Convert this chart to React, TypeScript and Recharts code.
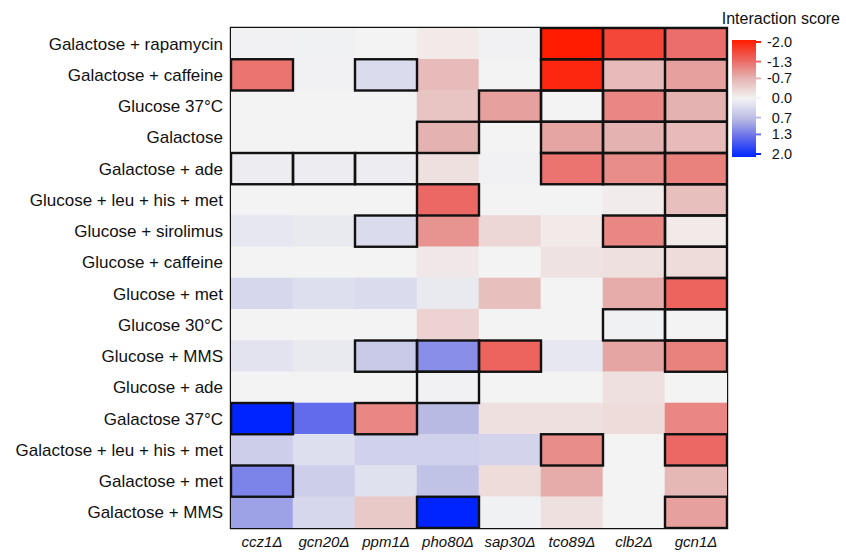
import { ScatterChart, Scatter, XAxis, YAxis, ReferenceArea } from "recharts"

const conditions = [
  "Galactose + rapamycin",
  "Galactose + caffeine",
  "Glucose 37°C",
  "Galactose",
  "Galactose + ade",
  "Glucose + leu + his + met",
  "Glucose + sirolimus",
  "Glucose + caffeine",
  "Glucose + met",
  "Glucose 30°C",
  "Glucose + MMS",
  "Glucose + ade",
  "Galactose 37°C",
  "Galactose + leu + his + met",
  "Galactose + met",
  "Galactose + MMS",
]

const strains = ["ccz1Δ", "gcn20Δ", "ppm1Δ", "pho80Δ", "sap30Δ", "tco89Δ", "clb2Δ", "gcn1Δ"]

// interaction scores, one array per strain, in condition order
const ccz1 = [0.02, -1.2, 0, 0, 0.08, 0, 0.15, 0, 0.35, 0, 0.2, 0, 2.0, 0.45, 1.15, 0.9]
const gcn20 = [0.03, 0.02, 0, 0, 0.08, 0, 0.12, 0, 0.25, 0, 0.12, 0, 1.35, 0.25, 0.45, 0.35]
const ppm1 = [0, 0.3, 0, 0, 0.08, 0, 0.3, 0, 0.3, 0, 0.5, 0, -1.05, 0.42, 0.22, -0.45]
const pho80 = [-0.1, -0.6, -0.5, -0.7, -0.2, -1.3, -0.95, -0.12, 0.12, -0.35, 1.05, 0.02, 0.7, 0.42, 0.6, 2.0]
const sap30 = [0.02, 0, -0.85, 0, 0.02, 0, -0.3, 0, -0.55, 0, -1.35, 0, -0.2, 0.38, -0.25, 0.03]
const tco89 = [-2.0, -1.9, 0, -0.8, -1.2, 0, -0.1, -0.18, 0, 0, 0.15, 0, -0.2, -1.0, -0.75, -0.2]
const clb2 = [-1.6, -0.6, -1.05, -0.7, -1.0, -0.08, -1.05, -0.2, -0.75, 0.03, -0.8, -0.2, -0.25, 0, 0, 0]
const gcn1 = [-1.25, -0.85, -0.7, -0.6, -1.1, -0.55, -0.1, -0.25, -1.35, 0, -1.1, 0, -1.05, -1.3, -0.65, -0.85]

// 1 = significant (outlined cell)
const ccz1Sig = [0, 1, 0, 0, 1, 0, 0, 0, 0, 0, 0, 0, 1, 0, 1, 0]
const gcn20Sig = [0, 0, 0, 0, 1, 0, 0, 0, 0, 0, 0, 0, 0, 0, 0, 0]
const ppm1Sig = [0, 1, 0, 0, 1, 0, 1, 0, 0, 0, 1, 0, 1, 0, 0, 0]
const pho80Sig = [0, 0, 0, 1, 0, 1, 0, 0, 0, 0, 1, 1, 0, 0, 0, 1]
const sap30Sig = [0, 0, 1, 0, 0, 0, 0, 0, 0, 0, 1, 0, 0, 0, 0, 0]
const tco89Sig = [1, 1, 1, 1, 1, 0, 0, 0, 0, 0, 0, 0, 0, 1, 0, 0]
const clb2Sig = [1, 0, 1, 1, 1, 0, 1, 0, 0, 1, 0, 0, 0, 0, 0, 0]
const gcn1Sig = [1, 1, 1, 1, 1, 1, 1, 1, 1, 1, 1, 0, 0, 1, 0, 1]

const legendTicks = [-2.0, -1.3, -0.7, 0.0, 0.7, 1.3, 2.0]

const scoreColumns = [ccz1, gcn20, ppm1, pho80, sap30, tco89, clb2, gcn1]
const sigColumns = [ccz1Sig, gcn20Sig, ppm1Sig, pho80Sig, sap30Sig, tco89Sig, clb2Sig, gcn1Sig]

const W = 846
const H = 552
const PLOT_LEFT = 231
const PLOT_TOP = 28
const PLOT_W = 496
const PLOT_H = 500
const CELL_W = PLOT_W / strains.length
const CELL_H = PLOT_H / conditions.length
const FONT = "'Liberation Sans', Arial, Helvetica, sans-serif"

// colour stops along the legend, -2 (red) to 2 (blue)
const colorStops: [number, number[]][] = [
  [-2.0, [255, 28, 0]],
  [-1.3, [236, 104, 100]],
  [-0.7, [228, 178, 176]],
  [0.0, [243, 243, 243]],
  [0.7, [184, 186, 228]],
  [1.3, [104, 112, 234]],
  [2.0, [0, 36, 255]],
]

function scoreColor(v: number) {
  const x = Math.max(-2, Math.min(2, v))
  for (let i = 0; i < colorStops.length - 1; i++) {
    const [a, ca] = colorStops[i]
    const [b, cb] = colorStops[i + 1]
    if (x >= a && x <= b) {
      const t = (x - a) / (b - a)
      const c = ca.map((k, j) => Math.round(k + (cb[j] - k) * t))
      return `rgb(${c[0]},${c[1]},${c[2]})`
    }
  }
  return "rgb(243,243,243)"
}

const cells = strains.flatMap((strain, c) =>
  conditions.map((condition, r) => ({
    x: c + 0.5,
    y: r + 0.5,
    strain,
    condition,
    value: scoreColumns[c][r],
    sig: sigColumns[c][r] === 1,
  }))
)
const sigCells = cells.filter((d) => d.sig)

const xTicks = strains.map((_, i) => i + 0.5)
const yTicks = conditions.map((_, i) => i + 0.5)

const FillCell = (props: any) => {
  const { cx, cy, payload } = props
  return (
    <rect
      x={cx - CELL_W / 2 - 0.3}
      y={cy - CELL_H / 2 - 0.3}
      width={CELL_W + 0.6}
      height={CELL_H + 0.6}
      fill={scoreColor(payload.value)}
    />
  )
}

const BorderCell = (props: any) => {
  const { cx, cy } = props
  return (
    <rect
      x={cx - CELL_W / 2}
      y={cy - CELL_H / 2}
      width={CELL_W}
      height={CELL_H}
      fill="none"
      stroke="#111"
      strokeWidth={2.4}
    />
  )
}

function ColorLegend() {
  const barX = 732
  const barY = 40
  const barW = 24
  const barH = 117
  const tickY = (v: number) => 42 + ((v + 2) / 4) * 112
  return (
    <svg width={W} height={H} style={{ position: "absolute", left: 0, top: 0, pointerEvents: "none" }}>
      <defs>
        <linearGradient id="scoreGrad" x1="0" y1="0" x2="0" y2="1">
          {colorStops.map(([v]) => (
            <stop key={v} offset={(v + 2) / 4} stopColor={scoreColor(v)} />
          ))}
        </linearGradient>
      </defs>
      <text x={840} y={24} textAnchor="end" fontSize={16} fontFamily={FONT} fill="#111">
        Interaction score
      </text>
      <rect x={barX} y={barY} width={barW} height={barH} fill="url(#scoreGrad)" />
      {legendTicks.map((v) => (
        <g key={v}>
          <line x1={barX + barW} x2={barX + barW + 5} y1={tickY(v)} y2={tickY(v)} stroke={scoreColor(v)} strokeWidth={2} />
          <text
            x={792}
            y={tickY(v)}
            dy="0.35em"
            textAnchor="end"
            fontSize={14.5}
            fontFamily={FONT}
            fill="#111"
          >
            {v.toFixed(1)}
          </text>
        </g>
      ))}
    </svg>
  )
}

export default function App() {
  return (
    <div style={{ position: "absolute", left: 0, top: 0, width: W, height: H, background: "#fff" }}>
      <ScatterChart
        width={W}
        height={H}
        margin={{ top: PLOT_TOP, right: W - PLOT_LEFT - PLOT_W, bottom: 0, left: 0 }}
      >
        <XAxis
          type="number"
          dataKey="x"
          domain={[0, strains.length]}
          ticks={xTicks}
          interval={0}
          height={H - PLOT_TOP - PLOT_H}
          tickFormatter={(v: number) => strains[Math.round(v - 0.5)]}
          tickLine={false}
          axisLine={false}
          tick={{ fontSize: 15, fontStyle: "italic", fill: "#111", fontFamily: FONT }}
          allowDataOverflow
        />
        <YAxis
          type="number"
          dataKey="y"
          domain={[0, conditions.length]}
          reversed
          ticks={yTicks}
          interval={0}
          width={PLOT_LEFT}
          tickFormatter={(v: number) => conditions[Math.round(v - 0.5)]}
          tickLine={false}
          axisLine={false}
          tick={{ fontSize: 17, fill: "#111", fontFamily: FONT }}
          allowDataOverflow
        />
        <Scatter data={cells} shape={FillCell} isAnimationActive={false} />
        <Scatter data={sigCells} shape={BorderCell} isAnimationActive={false} />
        <ReferenceArea
          x1={0}
          x2={strains.length}
          y1={0}
          y2={conditions.length}
          fill="none"
          fillOpacity={0}
          stroke="#111"
          strokeWidth={2.4}
          ifOverflow="visible"
        />
      </ScatterChart>
      <ColorLegend />
    </div>
  )
}
